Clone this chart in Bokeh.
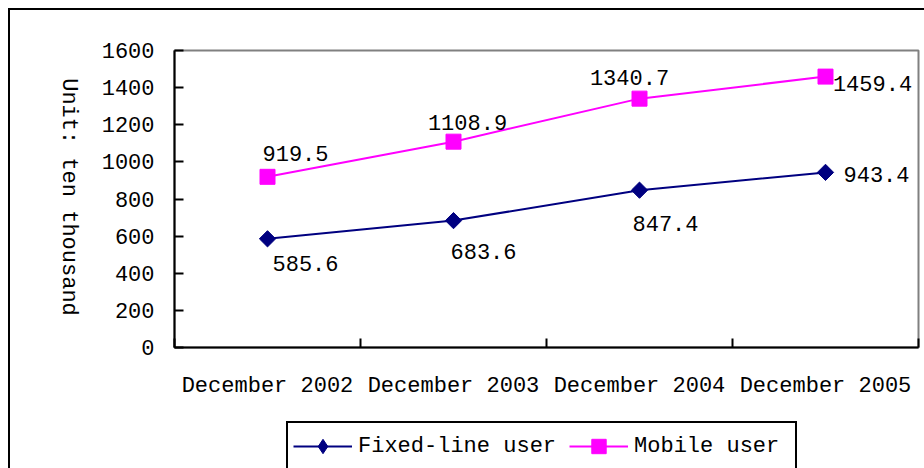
import math
from bokeh.plotting import figure
from bokeh.layouts import row, column
from bokeh.models import FixedTicker, Legend, LegendItem
from bokeh.core.properties import value
from bokeh.embed import file_html
from bokeh.resources import INLINE

# ---- data ----
categories = ["December 2002", "December 2003", "December 2004", "December 2005"]
fixed_line = [585.6, 683.6, 847.4, 943.4]
mobile = [919.5, 1108.9, 1340.7, 1459.4]
y_ticks = [0, 200, 400, 600, 800, 1000, 1200, 1400, 1600]
series_names = ["Fixed-line user", "Mobile user"]
y_label = "Unit: ten thousand"

# ---- label placement (screen px, y down) ----
fixed_dx = [38, 30, 26, 51]
fixed_dy = [25, 31, 33, 2]
mobile_dx = [28, 14, -10, 47]
mobile_dy = [-23, -19, -21, 7]

FONT = "Liberation Mono"
FS = "22px"
NAVY = "#000080"
MAGENTA = "#FF00FF"

xs = [i + 0.5 for i in range(len(categories))]
boundaries = list(range(len(categories) + 1))

LAB_W = 86
TOTAL_W = 914
H_MAIN = 410
H_LEG = 48
TOP = 40
BOTTOM = 73

p = figure(width=TOTAL_W - LAB_W, height=H_MAIN, x_range=(0, len(categories)),
           y_range=(y_ticks[0], y_ticks[-1]),
           output_backend="svg", toolbar_location=None,
           min_border_left=164 - LAB_W, min_border_top=TOP, min_border_right=6,
           min_border_bottom=BOTTOM)
p.xgrid.visible = False
p.ygrid.visible = False
p.outline_line_color = "#808080"
p.outline_line_width = 2
p.background_fill_color = "white"
p.border_fill_color = "white"

# y axis
ya = p.yaxis[0]
ya.ticker = FixedTicker(ticks=y_ticks)
ya.major_tick_in = 9
ya.major_tick_out = 0
ya.minor_tick_line_color = None
ya.axis_line_width = 2
ya.axis_line_color = "black"
ya.major_tick_line_width = 2
ya.major_tick_line_color = "black"
ya.major_label_text_font = FONT
ya.major_label_text_font_size = FS
ya.major_label_text_color = "black"
ya.major_label_standoff = 20

# x axis
xa = p.xaxis[0]
xa.ticker = FixedTicker(ticks=xs, minor_ticks=boundaries)
xa.major_label_overrides = {x: c for x, c in zip(xs, categories)}
xa.major_tick_line_color = None
xa.major_tick_in = 0
xa.major_tick_out = 0
xa.minor_tick_in = 9
xa.minor_tick_out = 0
xa.minor_tick_line_width = 2
xa.minor_tick_line_color = "black"
xa.axis_line_width = 2
xa.axis_line_color = "black"
xa.major_label_text_font = FONT
xa.major_label_text_font_size = FS
xa.major_label_text_color = "black"
xa.major_label_standoff = 26

# series styles
fixed_line_style = dict(line_color=NAVY, line_width=2)
fixed_mark_style = dict(marker="square", angle=math.pi / 4, size=11.5, fill_color=NAVY, line_color=NAVY)
mobile_line_style = dict(line_color=MAGENTA, line_width=2)
mobile_mark_style = dict(marker="square", size=15, fill_color=MAGENTA, line_color=MAGENTA)

p.line(xs, fixed_line, **fixed_line_style)
p.scatter(xs, fixed_line, **fixed_mark_style)
p.line(xs, mobile, **mobile_line_style)
p.scatter(xs, mobile, **mobile_mark_style)

p.text(xs, fixed_line, text=["%.1f" % v for v in fixed_line], x_offset=fixed_dx, y_offset=fixed_dy,
       text_align="center", text_baseline="middle", text_font=value(FONT),
       text_font_size=FS, text_color="black")
p.text(xs, mobile, text=["%.1f" % v for v in mobile], x_offset=mobile_dx, y_offset=mobile_dy,
       text_align="center", text_baseline="middle", text_font=value(FONT),
       text_font_size=FS, text_color="black")

# y-axis title in a narrow companion figure (reads top-to-bottom)
lab = figure(width=LAB_W, height=H_MAIN, x_range=(0, LAB_W), y_range=p.y_range,
             output_backend="svg", toolbar_location=None,
             x_axis_location=None, y_axis_location=None,
             min_border_left=0, min_border_right=0, min_border_top=TOP,
             min_border_bottom=BOTTOM)
lab.xgrid.visible = False
lab.ygrid.visible = False
lab.outline_line_color = None
lab.border_fill_color = "white"
lab.text(x=[57.5], y=[(y_ticks[0] + y_ticks[-1]) / 2], text=[y_label], angle=-math.pi / 2,
         y_offset=-2, text_align="center", text_baseline="middle", text_font=value(FONT),
         text_font_size=FS, text_color="black")

# legend strip below (series re-drawn out of this strip's view, only their legend glyphs show)
leg = figure(width=TOTAL_W, height=H_LEG, x_range=(0, 1), y_range=(-1, 0),
             output_backend="svg", toolbar_location=None,
             x_axis_location=None, y_axis_location=None,
             min_border_left=0, min_border_right=0, min_border_top=0, min_border_bottom=0)
leg.xgrid.visible = False
leg.ygrid.visible = False
leg.outline_line_color = None
leg.border_fill_color = "white"
legend_fixed_mark = dict(fixed_mark_style, marker="diamond", angle=0)
g1 = leg.line(xs, fixed_line, **fixed_line_style)
g2 = leg.scatter(xs, fixed_line, **legend_fixed_mark)
g3 = leg.line(xs, mobile, **mobile_line_style)
g4 = leg.scatter(xs, mobile, **mobile_mark_style)

legend = Legend(items=[LegendItem(label=series_names[0], renderers=[g1, g2]),
                       LegendItem(label=series_names[1], renderers=[g3, g4])],
                location=(276, -3), orientation="horizontal",
                border_line_color="black", border_line_width=2, border_line_alpha=1,
                padding=5, glyph_height=36, glyph_width=59, label_standoff=6, spacing=13,
                label_width=156,
                label_text_font=FONT, label_text_font_size=FS, label_text_color="black",
                margin=0, background_fill_color="white", background_fill_alpha=1)
leg.add_layout(legend, "center")

layout = column(row(lab, p, spacing=0), leg, spacing=0)
layout.styles = {"margin-left": "8px", "margin-top": "8px",
                 "border-top": "2px solid black", "border-left": "2px solid black"}

open("out.html", "w").write(file_html(layout, INLINE))
